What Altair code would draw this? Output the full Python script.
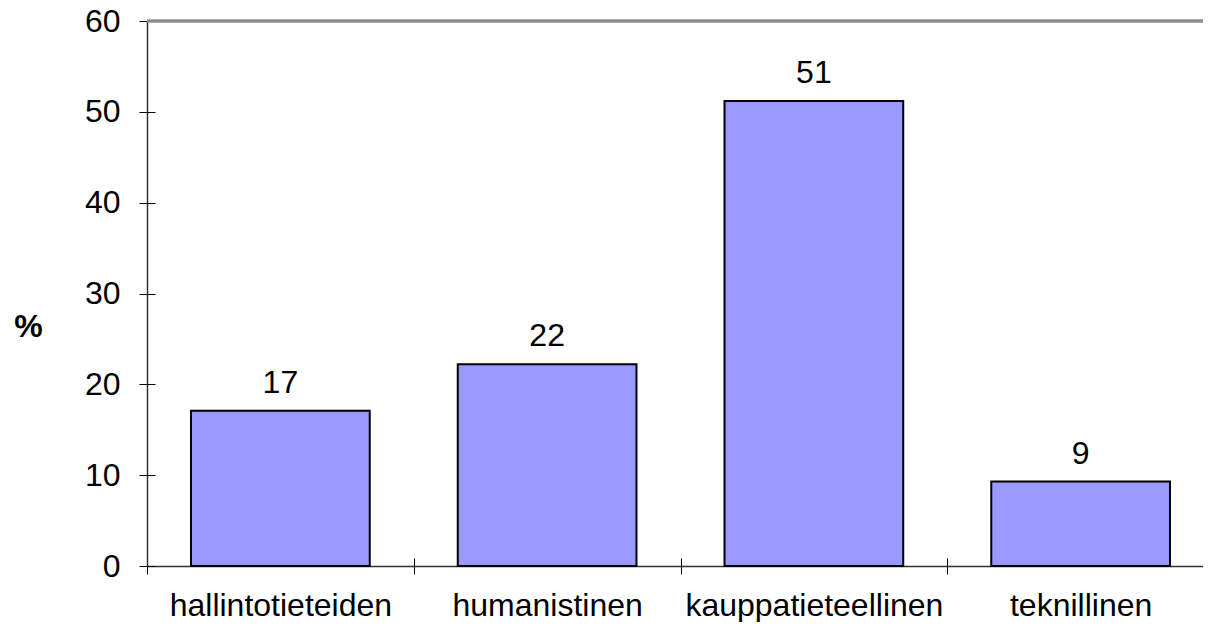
import altair as alt
import pandas as pd

categories = ["hallintotieteiden", "humanistinen", "kauppatieteellinen", "teknillinen"]
values = [17.1, 22.2, 51.2, 9.3]
value_labels = ["17", "22", "51", "9"]
y_ticks = [0, 10, 20, 30, 40, 50, 60]

df = pd.DataFrame({"ala": categories, "pct": values, "label": value_labels})

FONT = "Liberation Sans"
FS = 32
W, H = 1056, 545
RANGE_W = 1067
STEP = RANGE_W / 4.0
GAP_HALF = 0.165 * STEP

x_scale = alt.Scale(range=[0, RANGE_W], paddingInner=0.33, paddingOuter=0.165)
y_scale = alt.Scale(domain=[0, 60], nice=False)

base = alt.Chart(df)

bars = base.mark_bar(color="#9999ff", stroke="#000000", strokeWidth=2).encode(
    x=alt.X(
        "ala:N", sort=categories, scale=x_scale,
        axis=alt.Axis(orient="bottom", title=None, labelAngle=0, labelFont=FONT,
                      labelFontSize=FS, labelColor="#000000", labelPadding=41,
                      labelBaseline="alphabetic",
                      labelLimit=0, labelOverlap=False,
                      tickSize=8, tickColor="#000000", tickWidth=1, bandPosition=0,
                      tickOffset=-GAP_HALF, labelOffset=GAP_HALF,
                      domainColor="#333333", domainWidth=1.5, grid=False),
    ),
    y=alt.Y(
        "pct:Q", scale=y_scale,
        axis=alt.Axis(orient="left", values=y_ticks, title="%", titleAngle=0,
                      titleFont=FONT, titleFontSize=FS, titleFontWeight="bold",
                      titleColor="#000000", titleX=-119, titleY=305,
                      titleAlign="center", titleBaseline="middle",
                      labelFont=FONT, labelFontSize=FS, labelColor="#000000",
                      labelPadding=19, labelFlush=False, labelOverlap=False,
                      tickSize=8, tickColor="#000000", tickWidth=1,
                      domainColor="#333333", domainWidth=1.5, grid=False),
    ),
)

inner_ticks = base.mark_bar(opacity=0).encode(
    x=alt.X("ala:N", sort=categories,
            axis=alt.Axis(orient="bottom", offset=-8, labels=False, domain=False,
                          title=None, tickSize=8, tickColor="#000000", tickWidth=1,
                          bandPosition=0, tickOffset=-GAP_HALF, grid=False)),
    y=alt.Y("pct:Q",
            axis=alt.Axis(orient="left", offset=-8, labels=False, domain=False,
                          title=None, values=y_ticks, tickSize=8,
                          tickColor="#000000", tickWidth=1, grid=False)),
)

top_line = base.mark_rule(color="#8a8a8a", strokeWidth=2.5).encode(
    y=alt.YDatum(datum=60, axis=None)
)

texts = base.mark_text(dy=-18, baseline="alphabetic", align="center",
                       font=FONT, fontSize=FS, color="#000000").encode(
    x=alt.X("ala:N", sort=categories, axis=None),
    y=alt.Y("pct:Q", axis=None),
    text="label:N",
)

chart = (
    alt.layer(top_line, bars, inner_ticks, texts)
    .resolve_axis(x="independent", y="independent")
    .properties(
        width=W, height=H,
        autosize=alt.AutoSizeParams(type="none"),
        padding={"left": 139, "top": 13, "right": 0, "bottom": 56},
        background="#ffffff",
    )
    .configure_view(stroke=None)
)

chart.save("out.html", embed_options={"renderer": "svg", "actions": False})
